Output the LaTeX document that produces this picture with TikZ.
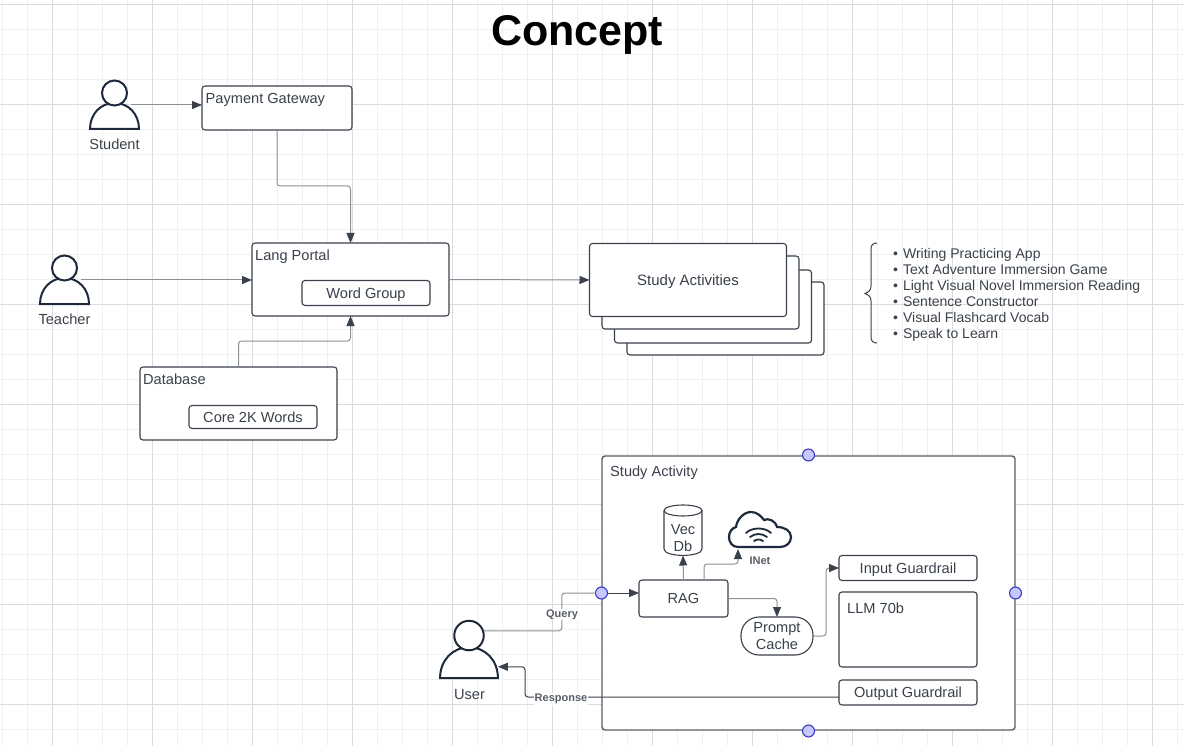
\documentclass[tikz,border=0pt]{standalone}
\usepackage{fontspec}
\setmainfont{Liberation Sans}
\usetikzlibrary{positioning, arrows.meta, calc}

\definecolor{inkdark}{HTML}{3A414B}
\definecolor{linegray}{HTML}{8C9098}
\definecolor{navy}{HTML}{1E2A3C}
\definecolor{gridminor}{HTML}{F0F0F0}
\definecolor{gridmajor}{HTML}{DCDCDE}

\tikzset{
  boxnode/.style={draw=inkdark, fill=white, rectangle, rounded corners=3pt, line width=1.1pt, inner sep=0pt, outer sep=0pt, text=inkdark, text depth=0pt, font=\fontsize{14.6}{17}\selectfont, align=center},
  tagtext/.style={inner sep=0pt, anchor=west, text=inkdark, text depth=0pt, font=\fontsize{14.6}{17}\selectfont},
  edgelabel/.style={inner sep=1pt, fill=white, text=inkdark!85, font=\fontsize{11}{12}\bfseries\selectfont},
  conn/.style={draw=linegray, line width=1pt, rounded corners=3pt, -{Triangle[length=10pt,width=8pt,fill=inkdark,color=inkdark]}},
  conndark/.style={conn, draw=inkdark},
  handle/.style={circle, draw=blue!70!black!80, fill=blue!22!white, line width=1pt, minimum size=12pt, inner sep=0pt, outer sep=0pt},
  person/.pic={
    \draw[navy, fill=white, line width=2pt] (-24.5,0) .. controls (-24.5,-15) and (-14,-26) .. (0,-26) .. controls (14,-26) and (24.5,-15) .. (24.5,0) -- cycle;
    \draw[navy, fill=white, line width=2pt] (0,-36) circle[radius=12.5];
    \coordinate (-side) at (16.5,-24);
    \coordinate (-neck) at (12.5,-40);
    \coordinate (-arm) at (24.5,-9.5);
  },
}

\begin{document}
\begin{tikzpicture}[x=1pt, y=-1pt]
\useasboundingbox (0,0) rectangle (1184,746);

% Background grid
\foreach \gx in {2.5,27.5,...,1184} \draw[gridminor, line width=1pt] (\gx,0) -- (\gx,746);
\foreach \gy in {4.5,29.5,...,746} \draw[gridminor, line width=1pt] (0,\gy) -- (1184,\gy);
\foreach \gx in {52.5,152.5,...,1184} \draw[gridmajor, line width=1pt] (\gx,0) -- (\gx,746);
\foreach \gy in {4.5,104.5,...,746} \draw[gridmajor, line width=1pt] (0,\gy) -- (1184,\gy);

\node[inner sep=0pt, font=\fontsize{43}{46}\bfseries\selectfont] (title) at (577,35) {Concept};

% Top half: people and portal
\pic (student) at (114.5,129) {person};
\node[tagtext, anchor=center] (student_lbl) at (114.5,144) {Student};
\pic (teacher) at (64.5,304) {person};
\node[tagtext, anchor=center] (teacher_lbl) at (64.5,319) {Teacher};

\node[boxnode, minimum width=150pt, minimum height=44pt] (gateway) at (277,108) {};
\node[tagtext] (gateway_lbl) at (205.5,98) {Payment Gateway};
\node[boxnode, minimum width=197pt, minimum height=73pt] (lang_portal) at (350.5,279.5) {};
\node[tagtext] (portal_lbl) at (255,255) {Lang Portal};
\node[boxnode, minimum width=128pt, minimum height=25pt] (word_group) at (366,293) {Word Group};
\node[boxnode, minimum width=197pt, minimum height=73pt] (database) at (238.5,403.5) {};
\node[tagtext] (database_lbl) at (143,379) {Database};
\node[boxnode, minimum width=128pt, minimum height=23pt] (core_words) at (253,417) {Core 2K Words};

% Stacked activities
\node[boxnode, minimum width=197pt, minimum height=73pt] (study_act4) at (725.5,318.5) {};
\node[boxnode, minimum width=197pt, minimum height=73pt] (study_act3) at (713,306.5) {};
\node[boxnode, minimum width=197pt, minimum height=73pt] (study_act2) at (700.5,292.5) {};
\node[boxnode, minimum width=197pt, minimum height=73pt, font=\fontsize{15}{17}\selectfont] (study_act1) at (688,280) {Study Activities};

\draw[inkdark, line width=1pt] (877,243) .. controls (873,243) and (871,245) .. (871,249) -- (871,286) .. controls (871,290) and (869,292) .. (865,293.5) .. controls (869,295) and (871,297) .. (871,301) -- (871,337) .. controls (871,341) and (873,343) .. (877,343);
\node[inner sep=0pt, anchor=north west, align=left, text=inkdark, font=\fontsize{14}{16}\selectfont] (activity_list) at (893,248.3) {\textbullet\hspace{5pt}Writing Practicing App\\\textbullet\hspace{5pt}Text Adventure Immersion Game\\\textbullet\hspace{5pt}Light Visual Novel Immersion Reading\\\textbullet\hspace{5pt}Sentence Constructor\\\textbullet\hspace{5pt}Visual Flashcard Vocab\\\textbullet\hspace{5pt}Speak to Learn};

% Bottom half: study activity
\node[boxnode, draw=inkdark!85, line width=1.4pt, minimum width=413pt, minimum height=274pt] (activity_frame) at (808.5,593) {};
\node[tagtext] (frame_lbl) at (610,471) {Study Activity};
\node[handle] (handle_n) at (808.5,455) {};
\node[handle] (handle_e) at (1015.5,593) {};
\node[handle] (handle_s) at (808.5,731) {};
\node[handle] (handle_w) at (601.5,593) {};

\node[boxnode, minimum width=89pt, minimum height=37pt] (rag) at (683.5,598.5) {RAG};
\draw[inkdark, fill=white, line width=1.1pt] (664,510.5) -- (664,549) .. controls (664,557.5) and (702,557.5) .. (702,549) -- (702,510.5);
\draw[inkdark, fill=white, line width=1.1pt] (683,510.5) ellipse[x radius=19, y radius=5.5];
\coordinate (vec_in) at (683,555.5);
\node[tagtext, anchor=center, align=center] (vec_db) at (683,537.5) {Vec\\Db};
\node[boxnode, rounded corners=18pt, minimum width=72pt, minimum height=38pt] (prompt_cache) at (777,636) {Prompt\\Cache};
\node[boxnode, minimum width=138pt, minimum height=25pt] (input_guard) at (908,568) {Input Guardrail};
\node[boxnode, minimum width=138pt, minimum height=75pt] (llm_box) at (908,629.5) {};
\node[tagtext] (llm_lbl) at (847,608) {LLM 70b};
\node[boxnode, minimum width=138pt, minimum height=25pt] (output_guard) at (908,692.5) {Output Guardrail};

% Internet cloud
\draw[navy, fill=white, line width=2.2pt] (738,547) .. controls (732,547) and (729,542) .. (729,537) .. controls (729,532) and (732,528) .. (736,527) .. controls (737,519) and (744,512) .. (751,512) .. controls (757,512) and (761,516) .. (764,520) .. controls (768,518) and (775,520) .. (777,527) .. controls (785,527) and (791,531) .. (791,537) .. controls (791,543) and (786,547) .. (780,547) -- cycle;
\draw[navy, line width=1.8pt, line cap=round] (746,533) .. controls (752,527) and (765,527) .. (771,533);
\draw[navy, line width=1.8pt, line cap=round] (750,537) .. controls (755,533) and (762,533) .. (767,537);
\draw[navy, line width=1.8pt, line cap=round] (754,541) .. controls (757,539) and (760,539) .. (763,541);
\coordinate (cloud_in) at (738,549);
\node[edgelabel, fill=none] (inet_lbl) at (760,561) {INet};

\pic[scale=1.18] (user) at (469,678) {person};
\node[tagtext, anchor=center] (user_lbl) at (469.5,694) {User};

% Connectors
\draw[conn] (student-side) -- (student-side -| gateway.west);
\draw[conn] (teacher-side) -- (teacher-side -| lang_portal.west);
\draw[conn] (gateway.south) -- ++(0,56) -| (lang_portal.north);
\draw[conn] (database.north) -- ++(0,-26) -| (lang_portal.south);
\draw[conn] (lang_portal.east) -- (study_act1.west);
\draw[conndark] (handle_w) -- (handle_w -| rag.west);
\draw[conn] (rag.north) -- (vec_in);
\draw[conn] ($(rag.north)+(20.5,0)$) -- ++(0,-16) -| (cloud_in);
\draw[conn] (rag.east) -| (prompt_cache.north);
\draw[conn] (prompt_cache.east) -- ++(13,0) |- (input_guard.west);

\draw[conn, arrows=-] (user-neck) -- ++(78,0) |- (handle_w);
\coordinate (resp_turn) at (525,697);
\draw[conndark] (output_guard.west |- resp_turn) -- (resp_turn) |- (user-arm);
\node[edgelabel] (query_lbl) at (562,614.5) {Query};
\node[edgelabel] (response_lbl) at (561,699) {Response};

\end{tikzpicture}
\end{document}
